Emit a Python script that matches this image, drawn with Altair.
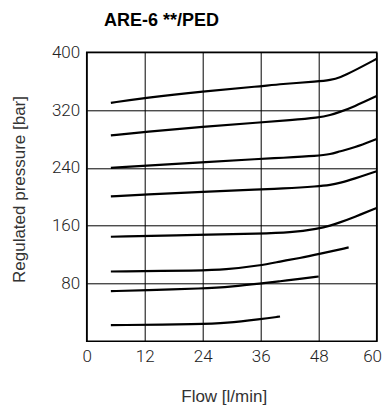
import altair as alt
import pandas as pd

TITLE = "ARE-6 **/PED"
X_TITLE = "Flow [l/min]"
Y_TITLE = "Regulated pressure [bar]"
X_TICKS = [0, 12, 24, 36, 48, 60]
Y_TICKS = [80, 160, 240, 320, 400]

flow_1 = [5, 12, 24, 36, 40, 48, 50.4, 52.4, 55.2, 60]
pres_1 = [330, 337, 346, 353, 356, 359.6, 361.5, 365, 374, 391]
flow_2 = [5, 12, 24, 36, 42, 48, 50.4, 52.4, 55.2, 60]
pres_2 = [285, 290, 297, 303, 306, 309.7, 313, 317.5, 324.5, 339.5]
flow_3 = [5, 24, 36, 40, 48, 50.4, 52.4, 55.2, 60]
pres_3 = [240, 248, 252.5, 253.8, 256.6, 259, 263, 267.5, 280]
flow_4 = [5, 12, 24, 36, 40, 48, 50.4, 52.4, 55.2, 60]
pres_4 = [200.6, 203.4, 206.7, 210.3, 211.3, 214.5, 216.4, 219.2, 224.7, 235.3]
flow_5 = [5, 24, 36, 42, 48, 50.4, 52.4, 55.2, 60]
pres_5 = [144.7, 147.5, 149, 150.3, 155.8, 160, 164.6, 171.5, 184.5]
flow_6 = [5, 24, 28.3, 36, 40, 44.1, 48, 54.2]
pres_6 = [96.6, 98, 99, 105, 110.5, 115.2, 120.7, 129.9]
flow_7 = [5, 12, 24, 30.3, 36, 40, 44.1, 48]
pres_7 = [69.4, 70.8, 73, 75.8, 80, 83, 86.5, 89.7]
flow_8 = [5, 24, 28.6, 36, 40]
pres_8 = [22.3, 23.7, 25, 30.6, 34.3]

curves = [(flow_1, pres_1), (flow_2, pres_2), (flow_3, pres_3), (flow_4, pres_4),
          (flow_5, pres_5), (flow_6, pres_6), (flow_7, pres_7), (flow_8, pres_8)]
rows = []
for i, (fs, ps) in enumerate(curves):
    for f, p in zip(fs, ps):
        rows.append({"curve": f"c{i+1}", "flow": f, "pressure": p})
df = pd.DataFrame(rows)
title_df = pd.DataFrame({"t": [TITLE]})

label_font = "Roboto, DejaVu Sans Condensed, sans-serif"
title_font = "Liberation Sans, Arial, sans-serif"

lines = alt.Chart(df).mark_line(
    color="black", strokeWidth=2.2, interpolate="basis"
).encode(
    x=alt.X("flow:Q", scale=alt.Scale(domain=[0, 60], nice=False),
            axis=alt.Axis(values=X_TICKS, title=X_TITLE, grid=True, gridColor="black",
                          gridOpacity=1, gridWidth=1, ticks=False, tickSize=0, domain=False,
                          labelFont=label_font, labelFontSize=17, labelFontWeight=300,
                          labelColor="#222",
                          labelPadding=7, labelFlush=True, labelFlushOffset=4.8,
                          labelOverlap=False,
                          titleFont=title_font, titleFontSize=17, titleFontWeight="normal",
                          titleColor="#333", titleX=137, titleY=60,
                          titleAlign="center", titleBaseline="alphabetic")),
    y=alt.Y("pressure:Q", scale=alt.Scale(domain=[0, 400], nice=False),
            axis=alt.Axis(values=Y_TICKS, title=Y_TITLE, grid=True, gridColor="black",
                          gridOpacity=1, gridWidth=1, ticks=False, tickSize=0, domain=False,
                          labelFont=label_font, labelFontSize=17, labelFontWeight=300,
                          labelColor="#222",
                          labelPadding=7, labelFlush=False, labelOverlap=False,
                          titleFont=title_font, titleFontSize=17, titleFontWeight="normal",
                          titleColor="#333", titleX=-61.7, titleY=136.7, titleAngle=270,
                          titleAlign="center", titleBaseline="alphabetic")),
    detail="curve:N",
)

title = alt.Chart(title_df).mark_text(
    align="left", baseline="alphabetic", font=title_font, fontSize=18,
    fontWeight="bold", color="black"
).encode(text="t:N", x=alt.value(17.3), y=alt.value(-26.3))

chart = alt.layer(lines, title).properties(
    width=290, height=289,
    autosize=alt.AutoSizeParams(type="none"),
    padding={"left": 78.7, "top": 44.3, "right": 5, "bottom": 63.7},
).configure_view(stroke="black", strokeWidth=1.5)

chart.save("out.html", embed_options={"renderer": "svg", "actions": False})
